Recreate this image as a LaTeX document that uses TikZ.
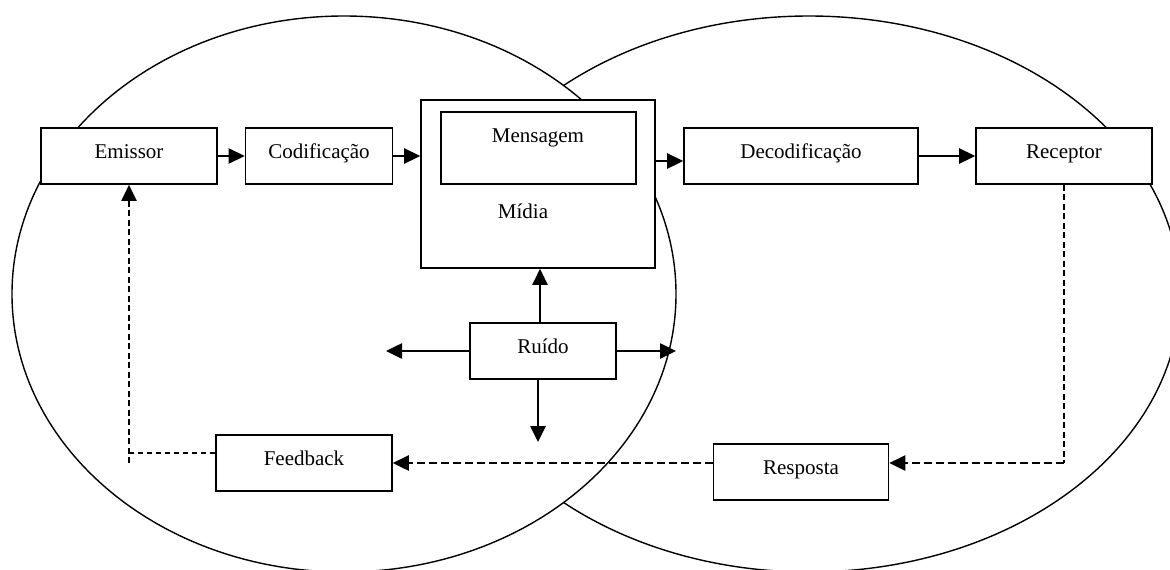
\documentclass[tikz,border=0pt]{standalone}
\usepackage{fontspec}
\setmainfont{Liberation Serif}
\usetikzlibrary{arrows.meta}

\tikzset{
  x=1pt, y=-1pt,
  ring/.style={line width=1.4pt},
  box/.style={draw, line width=1.6pt, fill=white, minimum height=56pt,
    inner sep=0pt, text height=16pt, text depth=11pt,
    font=\fontsize{21}{25}\selectfont},
  txt/.style={inner sep=0pt, font=\fontsize{21}{25}\selectfont},
  tip/.style={-{Triangle[length=16pt,width=15pt]}},
  flow/.style={tip, line width=2.6pt},
  back/.style={tip, line width=2.7pt, dash pattern=on 8pt off 4pt},
  backthin/.style={line width=2pt, dash pattern=on 6pt off 3.5pt},
  backhair/.style={line width=1.6pt, dash pattern=on 5pt off 4pt},
}

\begin{document}
\begin{tikzpicture}
\useasboundingbox (0,0) rectangle (1170,570);

% the two overlapping circles: receiver side first, sender side on top
\draw[ring] (809,294) ellipse [x radius=371, y radius=278];
\draw[ring, fill=white] (344,294) ellipse [x radius=332, y radius=278];

% blocks
\node[box, minimum width=176pt] (emissor) at (129,156) {Emissor};
\node[box, minimum width=147pt] (cod) at (319,156) {Codificação};
\node[box, minimum width=234pt, minimum height=168pt] (midia) at (538,184) {};
\node[box, minimum width=195pt, minimum height=72pt] (msg) at (538.5,148) {};
\node[txt, anchor=base] (msgtxt) at (538,142) {Mensagem};
\node[txt, anchor=base] (midiatxt) at (523,218) {Mídia};
\node[box, minimum width=234pt] (dec) at (801,156) {Decodificação};
\node[box, minimum width=176pt] (rec) at (1064,156) {Receptor};
\node[box, minimum width=146pt] (ruido) at (543,351) {Ruído};
\node[box, minimum width=176pt] (fb) at (304,463) {Feedback};
\node[box, minimum width=175pt] (resp) at (801,472) {Resposta};

% main flow
\draw[flow] (emissor.east) -- (cod.west);
\draw[flow] (cod.east) -- (cod.east -| midia.west);
\coordinate (m2d) at ([yshift=-5pt]dec.west);
\draw[flow] (m2d -| midia.east) -- (m2d);
\draw[flow] (dec.east) -- (rec.west);

% noise spreading out
\coordinate (nleft) at (386,351);
\coordinate (nright) at (676,351);
\coordinate (ndown) at (538,442);
\draw[flow] ([xshift=-3pt]ruido.north) -- ([xshift=-3pt]ruido.north |- midia.south);
\draw[flow] (ruido.west) -- (nleft);
\draw[flow] (ruido.east) -- (nright);
\draw[flow] ([xshift=-5pt]ruido.south) -- (ndown);

% return path
\coordinate (r2) at ([yshift=9pt]resp.east);
\coordinate (r1) at ([yshift=9pt]resp.west);
\coordinate (rcorner) at (rec.south |- r2);
\draw[backthin] (rec.south) -- (rcorner);
\draw[back] (rcorner) -- (r2);
\draw[back] (r1) -- (r1 -| fb.east);
\coordinate (f1) at ([yshift=10pt]fb.west);
\draw[backhair] (f1) -- (f1 -| emissor.south);
\draw[backthin, tip] (emissor.south |- fb.center) -- (emissor.south);
\end{tikzpicture}
\end{document}
